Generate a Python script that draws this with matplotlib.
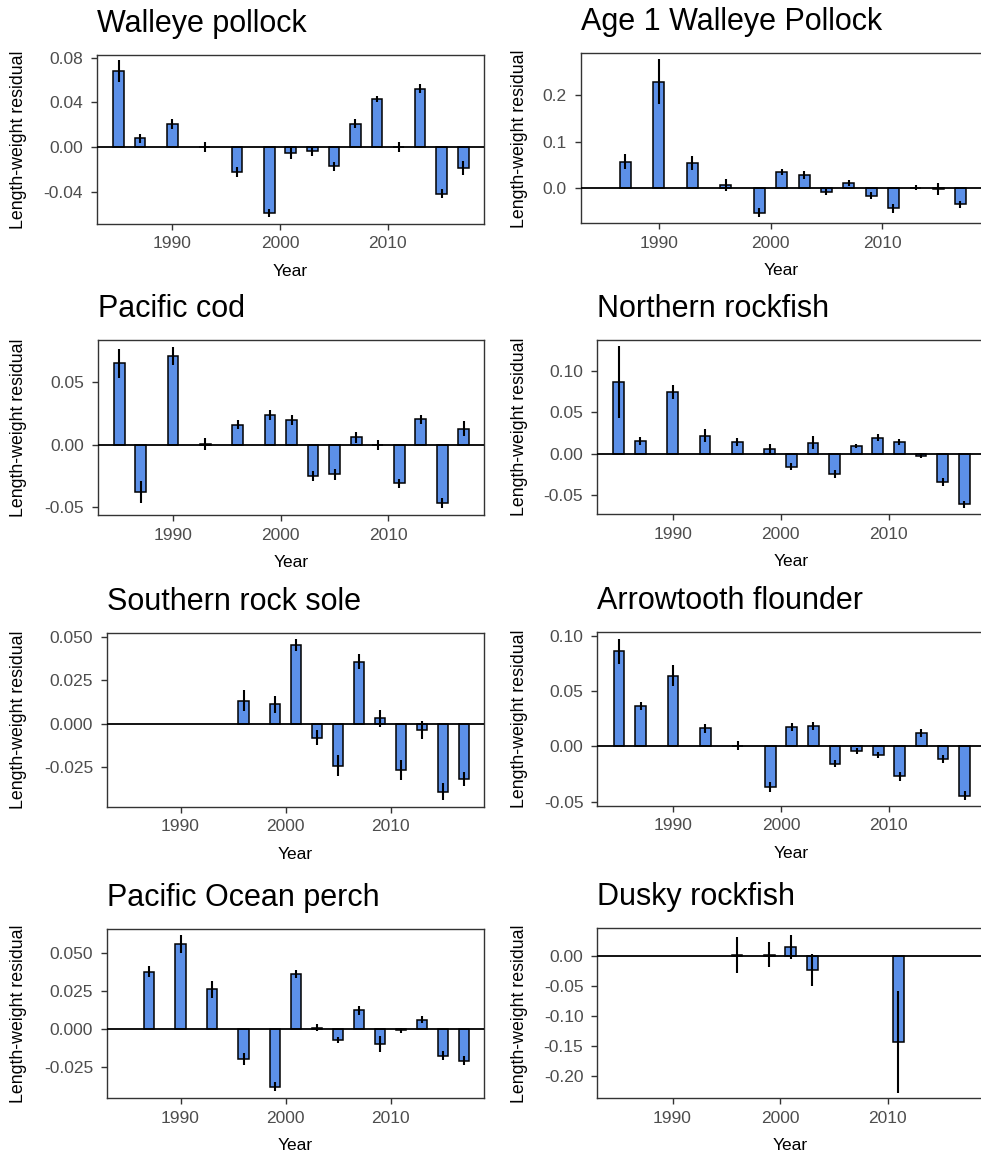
import matplotlib
matplotlib.use("Agg")
import matplotlib.pyplot as plt
from matplotlib.ticker import FormatStrFormatter
import matplotlib.transforms as mtransforms

plt.rcParams['font.family'] = ['Liberation Sans', 'DejaVu Sans']

years_all = [1985, 1987, 1990, 1993, 1996, 1999, 2001, 2003, 2005, 2007, 2009, 2011, 2013, 2015, 2017]

pollock_years = years_all
pollock_vals = [0.068, 0.008, 0.021, 0.0005, -0.022, -0.0587, -0.0048, -0.0036, -0.017, 0.021, 0.0429, 0.0005, 0.0524, -0.0414, -0.0185]
pollock_se = [0.0098, 0.004, 0.0045, 0.0045, 0.0046, 0.0035, 0.006, 0.004, 0.004, 0.004, 0.0025, 0.0045, 0.004, 0.004, 0.0064]

age1_years = [1987, 1990, 1993, 1996, 1999, 2001, 2003, 2005, 2007, 2009, 2011, 2013, 2015, 2017]
age1_vals = [0.057, 0.2286, 0.055, 0.007, -0.052, 0.0357, 0.0286, -0.007, 0.0114, -0.0157, -0.043, 0.001, -0.002, -0.034]
age1_se = [0.016, 0.048, 0.015, 0.012, 0.009, 0.0064, 0.008, 0.007, 0.007, 0.007, 0.009, 0.005, 0.0125, 0.0075]

cod_years = years_all
cod_vals = [0.0645, -0.0377, 0.0706, 0.0003, 0.0159, 0.0233, 0.0194, -0.0249, -0.0236, 0.0058, -0.0005, -0.031, 0.0202, -0.0462, 0.0125]
cod_se = [0.0115, 0.009, 0.0073, 0.0045, 0.0035, 0.004, 0.004, 0.004, 0.0045, 0.0044, 0.004, 0.0037, 0.0036, 0.004, 0.006]

northern_years = years_all
northern_vals = [0.0871, 0.0157, 0.075, 0.0218, 0.0137, 0.0052, -0.0157, 0.0133, -0.025, 0.0097, 0.0194, 0.0141, -0.0028, -0.0343, -0.0613]
northern_se = [0.0434, 0.005, 0.0085, 0.0077, 0.005, 0.0065, 0.004, 0.0075, 0.005, 0.0025, 0.0046, 0.004, 0.003, 0.0045, 0.0045]

srs_years = [1996, 1999, 2001, 2003, 2005, 2007, 2009, 2011, 2013, 2015, 2017]
srs_vals = [0.0133, 0.0112, 0.0455, -0.0081, -0.0243, 0.0359, 0.0031, -0.027, -0.0037, -0.0393, -0.0322]
srs_se = [0.006, 0.005, 0.0034, 0.0043, 0.006, 0.0044, 0.0048, 0.0058, 0.0052, 0.0048, 0.0041]

atf_years = years_all
atf_vals = [0.0861, 0.0364, 0.0639, 0.0163, 0.0005, -0.0367, 0.0175, 0.0184, -0.0157, -0.0045, -0.0078, -0.0271, 0.012, -0.0117, -0.0446]
atf_se = [0.0113, 0.0035, 0.0095, 0.0042, 0.0042, 0.0042, 0.0038, 0.0035, 0.0033, 0.0027, 0.003, 0.004, 0.004, 0.0035, 0.004]

pop_years = [1987, 1990, 1993, 1996, 1999, 2001, 2003, 2005, 2007, 2009, 2011, 2013, 2015, 2017]
pop_vals = [0.0379, 0.0563, 0.0263, -0.0199, -0.0382, 0.0362, 0.0009, -0.0073, 0.0124, -0.0099, -0.001, 0.0062, -0.0177, -0.0212]
pop_se = [0.0035, 0.0061, 0.0057, 0.0039, 0.0029, 0.0028, 0.0025, 0.0022, 0.0029, 0.0055, 0.0017, 0.0026, 0.0028, 0.003]

dusky_years = [1996, 1999, 2001, 2003, 2011]
dusky_vals = [0.001, 0.002, 0.0144, -0.0233, -0.1428]
dusky_se = [0.0297, 0.021, 0.020, 0.027, 0.0847]

titles = ["Walleye pollock", "Age 1 Walleye Pollock", "Pacific cod", "Northern rockfish",
          "Southern rock sole", "Arrowtooth flounder", "Pacific Ocean perch", "Dusky rockfish"]

yticks = [[-0.04, 0.0, 0.04, 0.08], [0.0, 0.1, 0.2], [-0.05, 0.0, 0.05], [-0.05, 0.0, 0.05, 0.10],
          [-0.025, 0.0, 0.025, 0.050], [-0.05, 0.0, 0.05, 0.10], [-0.025, 0.0, 0.025, 0.050],
          [-0.20, -0.15, -0.10, -0.05, 0.00]]
yfmt = ['%.2f', '%.1f', '%.2f', '%.2f', '%.3f', '%.2f', '%.3f', '%.2f']
ylims = [(-0.0686, 0.0824), (-0.075, 0.289), (-0.0561, 0.0832), (-0.0734, 0.1375),
         (-0.048, 0.0523), (-0.0539, 0.1036), (-0.0459, 0.0659), (-0.237, 0.046)]

data = [(pollock_years, pollock_vals, pollock_se), (age1_years, age1_vals, age1_se),
        (cod_years, cod_vals, cod_se), (northern_years, northern_vals, northern_se),
        (srs_years, srs_vals, srs_se), (atf_years, atf_vals, atf_se),
        (pop_years, pop_vals, pop_se), (dusky_years, dusky_vals, dusky_se)]

# layout in pixels: left, top, bottom, px per year, ylabel x-center
W, H = 981, 1156
XLIM = (1983.0, 2018.9)
layout = [(97, 55, 224, 10.77, 19), (580.7, 53.3, 223.3, 11.17, 519),
          (97.7, 340, 515, 10.77, 19), (597, 340, 514.3, 10.8, 519),
          (107, 633.3, 806.7, 10.5, 19), (597.3, 631.7, 806, 10.8, 519),
          (107, 929.3, 1098.3, 10.5, 19), (597.3, 928.3, 1098.3, 10.75, 519)]

fig = plt.figure(figsize=(W / 100, H / 100), dpi=100)
fill = '#5C90E8'
border = '#333333'

for i in range(8):
    l, t, b, ppy, ylx = layout[i]
    w = (XLIM[1] - XLIM[0]) * ppy
    ax = fig.add_axes([l / W, 1 - b / H, w / W, (b - t) / H])
    yrs, vals, se = data[i]
    ax.bar(yrs, vals, width=1.0, color=fill, edgecolor='black', linewidth=1.1, zorder=2)
    ax.errorbar(yrs, vals, yerr=se, fmt='none', ecolor='black', elinewidth=1.5, capsize=0, zorder=3)
    ax.axhline(0, color='black', linewidth=1.3, zorder=4)
    ax.set_xlim(*XLIM)
    ax.set_ylim(*ylims[i])
    ax.set_xticks([1990, 2000, 2010])
    ax.set_yticks(yticks[i])
    ax.yaxis.set_major_formatter(FormatStrFormatter(yfmt[i]))
    for s in ax.spines.values():
        s.set_color(border)
        s.set_linewidth(1.0)
    ax.tick_params(axis='both', colors=border, labelcolor='#4D4D4D', labelsize=12.5,
                   length=4.5, width=1.0)
    ax.tick_params(axis='x', pad=4.5)
    ax.tick_params(axis='y', pad=5.5)
    ax.set_title(titles[i], loc='left', fontsize=22, pad=16.5, color='black')
    ax.set_xlabel('Year', fontsize=12.5, labelpad=9, color='black')
    ax.set_ylabel('Length-weight residual', fontsize=12.8, color='black')
    trans = mtransforms.blended_transform_factory(
        mtransforms.Affine2D().scale(1.0 / W, 1.0) + fig.transFigure, ax.transAxes)
    ax.yaxis.set_label_coords(ylx, 0.5, transform=trans)
    ax.yaxis.label.set_verticalalignment('center')

fig.savefig('out.png', dpi=100, facecolor='white')
